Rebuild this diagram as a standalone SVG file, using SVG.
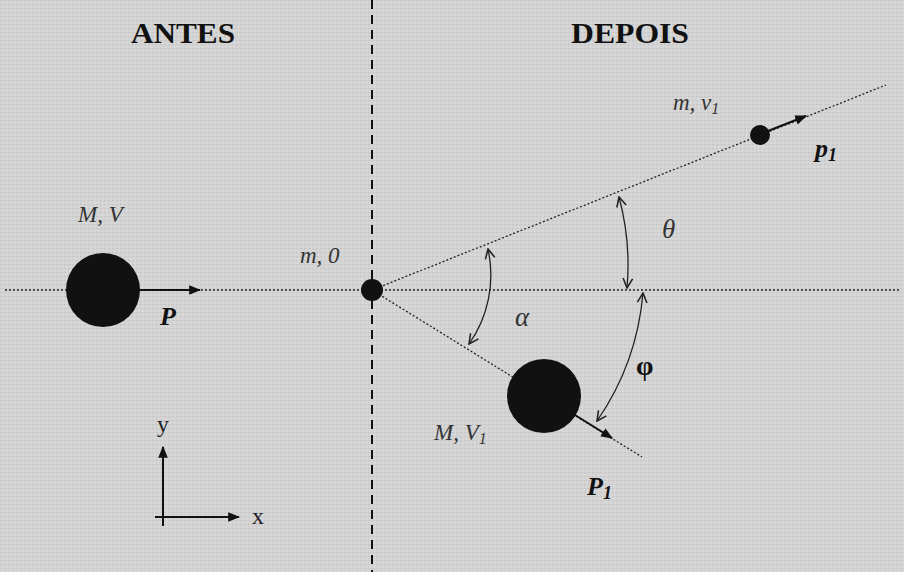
<svg xmlns="http://www.w3.org/2000/svg" width="904" height="572" viewBox="0 0 904 572">
<defs>
<style>
.dot{stroke:#222;stroke-width:1.3;stroke-dasharray:2 2;fill:none}
.dash{stroke:#111;stroke-width:2;stroke-dasharray:9 6;fill:none}
.vec{stroke:#111;stroke-width:2;fill:none}
.arc{stroke:#222;stroke-width:1.3;fill:none}
.ball{fill:#111}
.hdr{font-family:"Liberation Serif",serif;font-weight:bold;font-size:30px;fill:#111;text-anchor:middle}
.lbl{font-family:"Liberation Serif",serif;font-style:italic;font-size:23px;fill:#333}
.gr{font-family:"Liberation Serif",serif;font-style:italic;font-size:27px;fill:#333}
.vl{font-family:"Liberation Serif",serif;font-style:italic;font-weight:bold;font-size:26px;fill:#111}
.phi{font-family:"Liberation Serif",serif;font-weight:bold;font-size:28px;fill:#111}
.ax{font-family:"Liberation Serif",serif;font-size:24px;fill:#222}
</style>
<marker id="ah" viewBox="0 0 10 10" refX="9" refY="5" markerWidth="12" markerHeight="12" markerUnits="userSpaceOnUse" orient="auto">
<path d="M0,1 L10,5 L0,9 Z" fill="#111"/>
</marker>
<marker id="oa" viewBox="0 0 10 10" refX="9" refY="5" markerWidth="12" markerHeight="12" markerUnits="userSpaceOnUse" orient="auto-start-reverse">
<path d="M1,1 L9,5 L1,9" fill="none" stroke="#222" stroke-width="1.3"/>
</marker>
<pattern id="tex" width="4" height="4" patternUnits="userSpaceOnUse">
<rect width="4" height="4" fill="#d3d3d3"/>
<rect x="0" y="0" width="2" height="1" fill="#c6c6c6"/>
<rect x="2" y="2" width="1" height="2" fill="#dddddd"/>
</pattern>
</defs>
<rect width="904" height="572" fill="url(#tex)"/>
<g id="connectors">
<line class="dash" x1="372" y1="0" x2="372" y2="572"/>
<line class="dot" x1="5" y1="290" x2="900" y2="290"/>
<line class="dot" x1="372" y1="290" x2="886" y2="85"/>
<line class="dot" x1="372" y1="290" x2="642" y2="457"/>
<line class="vec" x1="138" y1="290" x2="200" y2="290" marker-end="url(#ah)"/>
<line class="vec" x1="768" y1="131" x2="806" y2="116" marker-end="url(#ah)"/>
<line class="vec" x1="575" y1="415" x2="612" y2="438" marker-end="url(#ah)"/>
<path class="arc" d="M488 249 A120 120 0 0 1 469 344" marker-start="url(#oa)" marker-end="url(#oa)"/>
<path class="arc" d="M619 197 A260 260 0 0 1 627 288" marker-start="url(#oa)" marker-end="url(#oa)"/>
<path class="arc" d="M643 293 A265 265 0 0 1 597 421" marker-start="url(#oa)" marker-end="url(#oa)"/>
<line class="vec" x1="163" y1="526" x2="163" y2="447" marker-end="url(#ah)"/>
<line class="vec" x1="155" y1="517" x2="239" y2="517" marker-end="url(#ah)"/>
</g>
<g id="headers">
<text class="hdr" x="183" y="43" textLength="104" lengthAdjust="spacingAndGlyphs">ANTES</text>
<text class="hdr" x="630" y="43" textLength="118" lengthAdjust="spacingAndGlyphs">DEPOIS</text>
</g>
<g id="ballM">
<circle class="ball" cx="103" cy="290" r="37"/>
<text class="lbl" x="78" y="222">M, V</text>
<text class="vl" x="160" y="325">P</text>
</g>
<g id="ballm">
<circle class="ball" cx="372" cy="290" r="11"/>
<text class="lbl" x="300" y="263">m, 0</text>
</g>
<g id="ballm1">
<circle class="ball" cx="760" cy="135" r="10"/>
<text class="lbl" x="673" y="110">m, v<tspan font-size="16" dy="4">1</tspan></text>
<text class="vl" x="815" y="157">p<tspan font-size="18" dy="4">1</tspan></text>
</g>
<g id="ballM1">
<circle class="ball" cx="544" cy="396" r="37"/>
<text class="lbl" x="434" y="440">M, V<tspan font-size="16" dy="4">1</tspan></text>
<text class="vl" x="587" y="495">P<tspan font-size="18" dy="4">1</tspan></text>
</g>
<g id="angles">
<text class="gr" x="662" y="238">θ</text>
<text class="gr" x="515" y="326">α</text>
<text class="phi" x="636" y="375">φ</text>
</g>
<g id="axes">
<text class="ax" x="157" y="432">y</text>
<text class="ax" x="252" y="524">x</text>
</g>
</svg>
